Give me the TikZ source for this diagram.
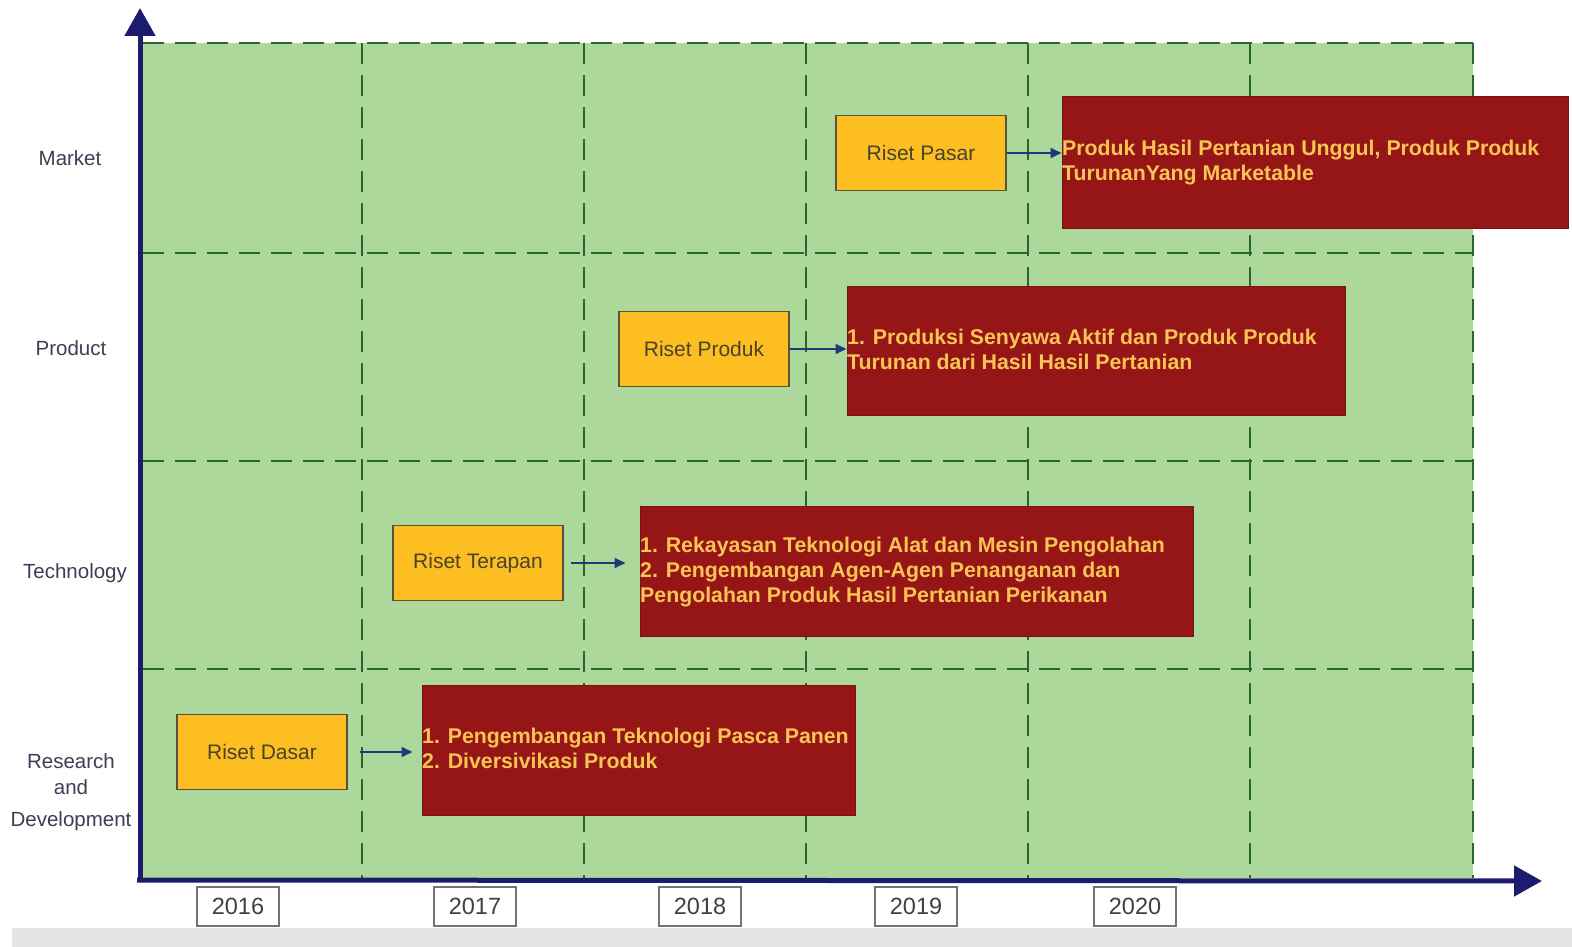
\documentclass[tikz,border=0pt]{standalone}
\usepackage{fontspec}
\setmainfont{Liberation Sans}
\usetikzlibrary{arrows.meta}

\definecolor{gridfill}{RGB}{172,216,156}
\definecolor{gridline}{RGB}{40,104,46}
\definecolor{axisblue}{RGB}{28,28,110}
\definecolor{boxorange}{RGB}{252,190,32}
\definecolor{boxred}{RGB}{150,22,24}
\definecolor{redtext}{RGB}{248,196,82}
\definecolor{labelgray}{RGB}{62,62,84}
\definecolor{arrowblue}{RGB}{30,58,120}
\definecolor{stripgray}{RGB}{229,229,229}
\definecolor{stageedge}{RGB}{88,84,60}
\definecolor{stagetext}{RGB}{74,66,44}

\begin{document}
\begin{tikzpicture}[x=1pt,y=-1pt,
  gridrule/.style={gridline, line width=2.8pt, dash pattern=on 21pt off 11pt},
  axisline/.style={axisblue, line width=5pt, -{Triangle[length=28pt,width=30pt]}},
  rowlabel/.style={font=\fontsize{20.5}{26}\selectfont, text=labelgray, align=center, inner sep=0pt},
  stage/.style={draw=stageedge, line width=1.8pt, fill=boxorange, minimum width=170pt, minimum height=75pt,
    font=\fontsize{21}{24}\selectfont, text=stagetext},
  goal/.style={draw=boxred!80!black, line width=1pt, fill=boxred},
  goaltext/.style={font=\bfseries\fontsize{21.3}{25}\selectfont, text=redtext, align=left, inner sep=0pt, anchor=north west},
  yearbox/.style={draw=black!55, line width=1.5pt, fill=white, minimum width=82pt, minimum height=39pt,
    font=\fontsize{23.5}{26}\selectfont, text=black!75},
  flow/.style={arrowblue, line width=1.6pt, -{Triangle[length=11pt,width=10pt]}}
]
\useasboundingbox (0,0) rectangle (1572,947);
\fill[white] (0,0) rectangle (1572,947);
\fill[stripgray] (12,928) rectangle (1572,947);

% roadmap grid
\fill[gridfill] (143,43) rectangle (1473,878);
\foreach \gx in {362,584,806,1028,1250,1473}
  \draw[gridrule] (\gx,43) -- (\gx,878);
\foreach \gy in {43,253,461,669}
  \draw[gridrule] (143,\gy) -- (1473,\gy);

% axes
\coordinate (origin) at (140,880);
\coordinate (ytop) at (140,8);
\coordinate (xend) at (1542,881);
\draw[axisline] (origin) -- (ytop);
\draw[axisline] ([xshift=-3pt]origin) -- (xend);

% row labels
\node[rowlabel] (lmarket) at (70,158) {Market};
\node[rowlabel] (lproduct) at (71,348) {Product};
\node[rowlabel] (ltech) at (75,573) {Technology};
\node[rowlabel] (lrnd) at (71,792) {Research\\and\\[6pt]Development};

% year labels
\node[yearbox] (y2016) at (238,906.5) {2016};
\node[yearbox] (y2017) at (475,906.5) {2017};
\node[yearbox] (y2018) at (700,906.5) {2018};
\node[yearbox] (y2019) at (916,906.5) {2019};
\node[yearbox] (y2020) at (1135,906.5) {2020};

% research stages
\node[stage] (pasar) at (921,153) {Riset Pasar};
\node[stage] (produk) at (704,349) {Riset Produk};
\node[stage] (terapan) at (478,563) {Riset Terapan};
\node[stage] (dasar) at (262,752) {Riset Dasar};

% outcomes
\node[goal, minimum width=506pt, minimum height=131pt] (gmarket) at (1315,162.5) {};
\node[goal, minimum width=498pt, minimum height=129pt] (gproduct) at (1096,350.5) {};
\node[goal, minimum width=553pt, minimum height=130pt] (gtech) at (916.5,571) {};
\node[goal, minimum width=433pt, minimum height=130pt] (grnd) at (638.5,750) {};

\node[goaltext] (tmarket) at (1062,140) {Produk Hasil Pertanian Unggul, Produk Produk\\TurunanYang Marketable};
\node[goaltext] (tproduct) at (847,329) {1. Produksi Senyawa Aktif dan Produk Produk\\Turunan dari Hasil Hasil Pertanian};
\node[goaltext] (ttech) at (640,537) {1. Rekayasan Teknologi Alat dan Mesin Pengolahan\\2. Pengembangan Agen-Agen Penanganan dan\\Pengolahan Produk Hasil Pertanian Perikanan};
\node[goaltext] (trnd) at (422,728) {1. Pengembangan Teknologi Pasca Panen\\2. Diversivikasi Produk};

% stage to outcome arrows
\draw[flow] (pasar.east) -- (gmarket.west |- pasar.east);
\draw[flow] (produk.east) -- (gproduct.west |- produk.east);
\draw[flow, shorten <=7pt, shorten >=14pt] (terapan.east) -- (gtech.west |- terapan.east);
\draw[flow, shorten <=12pt, shorten >=9pt] (dasar.east) -- (grnd.west |- dasar.east);
\end{tikzpicture}
\end{document}
